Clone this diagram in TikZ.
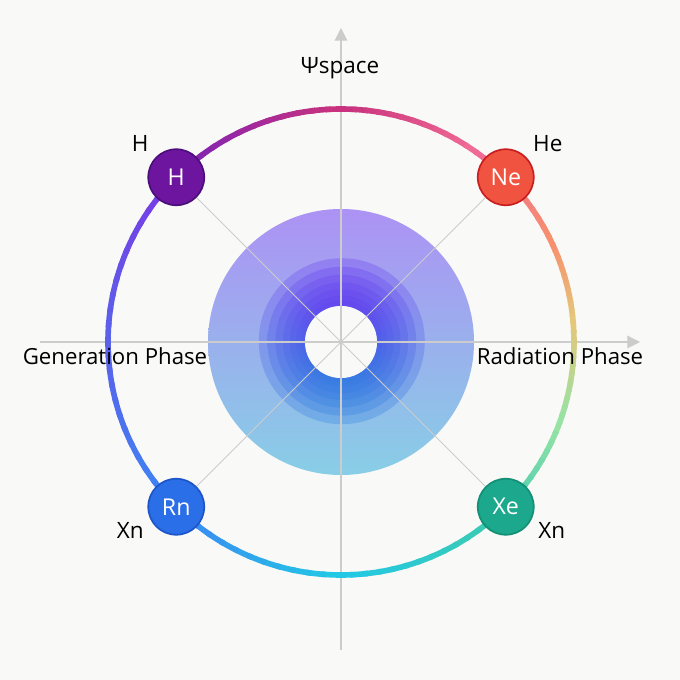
\documentclass[tikz,border=0pt]{standalone}
\usepackage{fontspec}
\setmainfont{Open Sans}
\usetikzlibrary{positioning,calc,arrows.meta}
\usepackage{xcolor}
\definecolor{bgcol}{HTML}{F9F9F7}
\definecolor{axiscol}{HTML}{CCCCCC}
\definecolor{diskTop}{HTML}{AC92F4}
\definecolor{diskBot}{HTML}{88CEE6}
\definecolor{ringTop}{HTML}{6A3AF2}
\definecolor{ringBot}{HTML}{2A80E0}
% colour stops of the outer ring
\definecolor{rA}{HTML}{7A22B8}
\definecolor{rB}{HTML}{C8327E}
\definecolor{rC}{HTML}{F06A94}
\definecolor{rD}{HTML}{F7906E}
\definecolor{rE}{HTML}{E4C77A}
\definecolor{rF}{HTML}{98E2A4}
\definecolor{rG}{HTML}{3CCBB4}
\definecolor{rH}{HTML}{22C8E4}
\definecolor{rI}{HTML}{3C86F4}
\definecolor{rJ}{HTML}{5A62EA}
\definecolor{rK}{HTML}{7A3AE6}
\definecolor{hFill}{HTML}{6E15A0}
\definecolor{hDraw}{HTML}{4B0E7A}
\definecolor{neFill}{HTML}{F05440}
\definecolor{neDraw}{HTML}{C81E1E}
\definecolor{rnFill}{HTML}{2A6EE8}
\definecolor{rnDraw}{HTML}{1D55C8}
\definecolor{xeFill}{HTML}{1BA88C}
\definecolor{xeDraw}{HTML}{138F75}
\tikzset{
  axis/.style={draw=axiscol, line width=0.8pt, -{Triangle[length=9pt,width=9pt]}},
  spoke/.style={draw=axiscol, line width=0.6pt},
  ringseg/.style={line width=4pt, line cap=butt},
  elem/.style={circle, minimum size=1.4cm, inner sep=0pt, line width=1.2pt,
    text=white, font=\fontsize{16.5}{20}\selectfont},
  lbl/.style={font=\fontsize{16}{19}\selectfont, text=black},
  phase/.style={font=\fontsize{15.8}{19}\selectfont, text=black}
}

\begin{document}
\begin{tikzpicture}
    \useasboundingbox[fill=bgcol] (0,0) rectangle (17,17);
    \coordinate (o) at (8.525,8.45);
    \coordinate (yb) at (8.525,0.75);
    \coordinate (yt) at (8.525,16.3);
    \coordinate (xl) at (1.0,8.45);
    \coordinate (xr) at (16.0,8.45);

    % shaded disk with hole
    \shade [top color=diskTop, bottom color=diskBot, even odd rule]
        (o) circle (3.325) (o) circle (0.9);
    \foreach \r in {2.075,1.86,1.66,1.47,1.3,1.14,1.02}
    {
        \shade [top color=ringTop, bottom color=ringBot, opacity=0.3, even odd rule]
            ($(o)+(0.02,0.02)$) circle (\r) (o) circle (0.9);
    }
    \fill [bgcol] (o) circle (0.9);

    % axes
    \draw [axis] (yb) -- (yt);
    \draw [axis] (xl) -- (xr);

    % gradient ring
    \foreach \a/\b/\ca/\cb in {135/90/rA/rB, 90/55/rB/rC, 55/25/rC/rD, 25/5/rD/rE,
        5/-20/rE/rF, -20/-50/rF/rG, -50/-90/rG/rH, -90/-135/rH/rI,
        -135/-180/rI/rJ, -180/-225/rJ/rK}
    {
        \foreach \i in {0,...,11}
        {
            \pgfmathsetmacro\s{\a+(\b-\a)*\i/12}
            \pgfmathsetmacro\e{\a+(\b-\a)*(\i+1.3)/12}
            \pgfmathtruncatemacro\p{100-\i*100/11}
            \draw [ringseg, color=\ca!\p!\cb] ($(o)+(\s:5.825)$) arc [start angle=\s, end angle=\e, radius=5.825];
        }
    }

    % element nodes
    \node [elem, fill=hFill, draw=hDraw] (hH) at ($(o)+(135:5.825)$) {H};
    \node [elem, fill=neFill, draw=neDraw] (ne) at ($(o)+(45:5.825)$) {Ne};
    \node [elem, fill=rnFill, draw=rnDraw] (rn) at ($(o)+(225:5.825)$) {Rn};
    \node [elem, fill=xeFill, draw=xeDraw] (xe) at ($(o)+(-45:5.825)$) {Xe};

    % spokes
    \foreach \n in {hH, ne, rn, xe}
        \draw [spoke] (o) -- (\n);

    % labels
    \node [lbl] (psi) at (8.5,15.3) {Ψspace};
    \node [lbl] (hlbl) at ($(hH)+(-0.9,0.85)$) {H};
    \node [lbl] (helbl) at ($(ne)+(1.05,0.85)$) {He};
    \node [lbl] (xnl) at ($(rn)+(-1.15,-0.6)$) {Xn};
    \node [lbl] (xnr) at ($(xe)+(1.15,-0.6)$) {Xn};
    \node [phase] (gen) at (2.875,8.1) {Generation Phase};
    \node [phase] (rad) at (14.0,8.1) {Radiation Phase};
\end{tikzpicture}
\end{document}
